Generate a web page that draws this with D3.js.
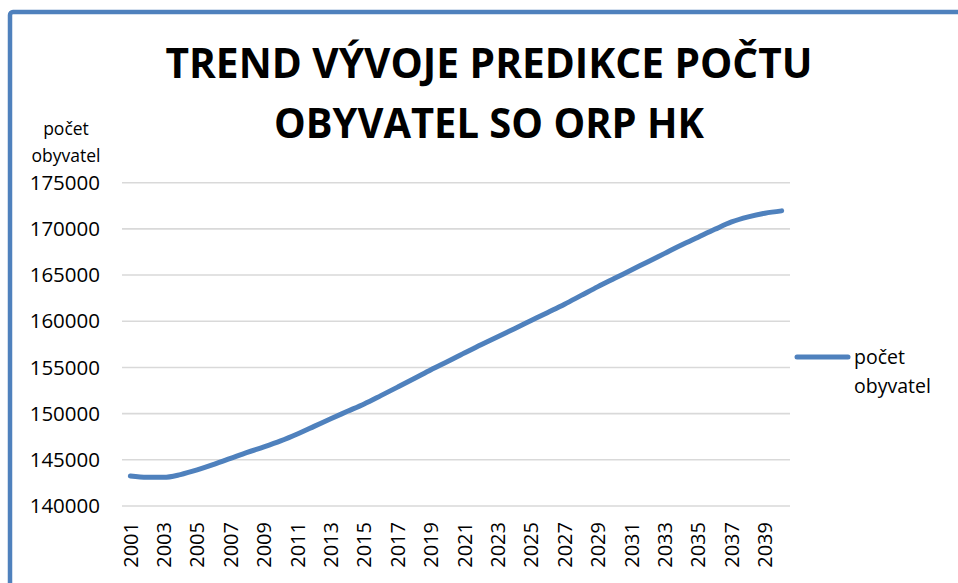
<!DOCTYPE html>
<html lang="cs">
<head>
<meta charset="UTF-8">
<title>Trend vývoje predikce počtu obyvatel SO ORP HK</title>
<script src="https://d3js.org/d3.v7.min.js"></script>
<style>
    body { margin: 0; background: #fff; }
    text { font-family: "Open Sans", "DejaVu Sans", sans-serif; fill: #000; }
</style>
</head>
<body>
<div id="chart"></div>
<script>
// roky (kategorie)
const years = d3.range(2001, 2041);
// odhad počtu obyvatel
const population = [
    143250, 143100, 143100, 143400, 143900, 144500, 145150, 145800, 146400, 147050,
    147800, 148620, 149450, 150250, 151050, 151950, 152870, 153800, 154750, 155650,
    156570, 157450, 158330, 159200, 160080, 160960, 161850, 162800, 163750, 164650,
    165550, 166450, 167350, 168250, 169100, 169950, 170750, 171300, 171700, 171950
];
const yTicks = [140000, 145000, 150000, 155000, 160000, 165000, 170000, 175000];
const xLabels = years.filter((y, i) => i % 2 === 0);
const titleLines = ["TREND VÝVOJE PREDIKCE POČTU", "OBYVATEL SO ORP HK"];
const seriesName = ["počet", "obyvatel"];

const W = 958, H = 583;
const blue = "#4f81bd";
const plot = { left: 122, right: 790, top: 182.7, bottom: 506 };

const svg = d3.select("#chart").append("svg")
    .attr("width", W).attr("height", H);

// rámeček grafu (přesahuje výřez)
svg.append("rect")
    .attr("x", 10).attr("y", 12)
    .attr("width", 1000).attr("height", 700)
    .attr("rx", 3)
    .attr("fill", "none")
    .attr("stroke", blue)
    .attr("stroke-width", 4.5);

// titulek
const titleWidths = [647, 430];
svg.append("g").selectAll("text")
    .data(titleLines)
    .join("text")
    .attr("x", 489)
    .attr("y", (d, i) => 78 + i * 59.5)
    .attr("text-anchor", "middle")
    .attr("font-size", 42)
    .attr("font-weight", "bold")
    .attr("textLength", (d, i) => titleWidths[i])
    .attr("lengthAdjust", "spacingAndGlyphs")
    .text(d => d);

const x = d3.scaleBand()
    .domain(years)
    .range([plot.left, plot.right]);

const y = d3.scaleLinear()
    .domain([140000, 175000])
    .range([plot.bottom, plot.top]);

// mřížka
svg.append("g").selectAll("line")
    .data(yTicks)
    .join("line")
    .attr("x1", plot.left).attr("x2", plot.right)
    .attr("y1", d => y(d)).attr("y2", d => y(d))
    .attr("stroke", "#d9d9d9")
    .attr("stroke-width", 1.6);

// osa y
const yAxis = svg.append("g")
    .attr("transform", `translate(${plot.left},0)`)
    .call(d3.axisLeft(y).tickValues(yTicks).tickSize(0).tickPadding(22).tickFormat(d3.format("d")));
yAxis.select(".domain").remove();
yAxis.selectAll("text")
    .attr("font-family", null)
    .attr("font-size", 20.5);

// popisek osy y
svg.append("g").selectAll("text")
    .data(seriesName)
    .join("text")
    .attr("x", 66)
    .attr("y", (d, i) => 135 + i * 27)
    .attr("text-anchor", "middle")
    .attr("font-size", 17.5)
    .text(d => d);

// osa x
const xAxis = svg.append("g")
    .attr("transform", `translate(0,${plot.bottom})`)
    .call(d3.axisBottom(x).tickValues(xLabels).tickSize(0));
xAxis.select(".domain").remove();
xAxis.selectAll("text")
    .attr("font-family", null)
    .attr("font-size", 20)
    .attr("text-anchor", "end")
    .attr("transform", "rotate(-90)")
    .attr("x", -16)
    .attr("y", 0)
    .attr("dy", "0.36em");

// čára
const line = d3.line()
    .x((d, i) => x(years[i]) + x.bandwidth() / 2)
    .y(d => y(d))
    .curve(d3.curveMonotoneX);

svg.append("path")
    .datum(population)
    .attr("fill", "none")
    .attr("stroke", blue)
    .attr("stroke-width", 5)
    .attr("stroke-linecap", "round")
    .attr("stroke-linejoin", "round")
    .attr("d", line);

// legenda
const legend = svg.append("g");
legend.append("line")
    .attr("x1", 797).attr("x2", 848)
    .attr("y1", 357).attr("y2", 357)
    .attr("stroke", blue)
    .attr("stroke-width", 5)
    .attr("stroke-linecap", "round");
legend.selectAll("text")
    .data(seriesName)
    .join("text")
    .attr("x", 854)
    .attr("y", (d, i) => 364 + i * 29)
    .attr("font-size", 19.5)
    .text(d => d);
</script>
</body>
</html>
